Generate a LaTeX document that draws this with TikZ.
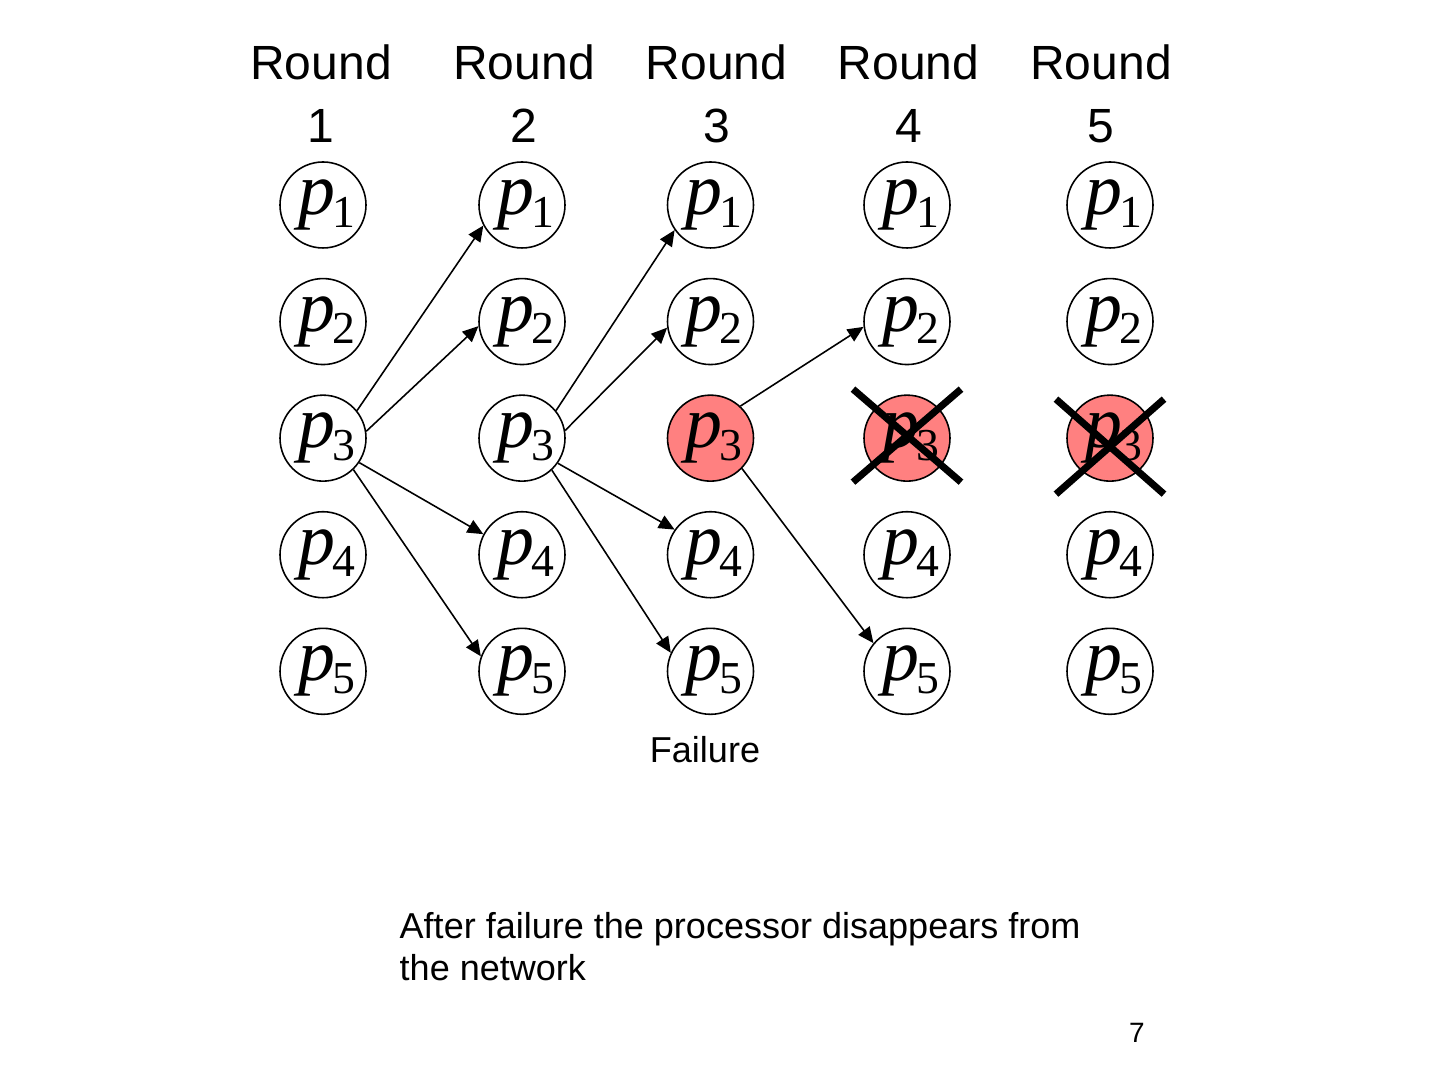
\documentclass[tikz,border=0pt]{standalone}
\usepackage{fontspec}
\setmainfont{Liberation Sans}
\newfontfamily\timesfont{Liberation Serif}
\usetikzlibrary{arrows.meta}
\usetikzlibrary{positioning}
\usepackage{xcolor}
\definecolor{failred}{HTML}{FF8080}
\newcommand{\pn}[1]{\kern2pt{\fontsize{21}{22}\selectfont\timesfont\itshape p}\kern-0.8pt\raisebox{-3.6pt}{\fontsize{13}{14}\selectfont\timesfont #1}}

\begin{document}
\begin{tikzpicture}[
  node distance=0.29cm,
  proc/.style={circle, draw=black, line width=0.45pt, fill=white,
    minimum size=0.86cm, inner sep=0pt},
  failed/.style={proc, fill=failred},
  round/.style={anchor=north, inner sep=0pt, align=center,
    font=\fontsize{13.66}{17.9}\selectfont},
  arrow/.style={-{Triangle[length=4.5pt, width=4pt]}, line width=0.45pt},
  cross/.style={line width=2pt},
  note/.style={inner sep=0pt, font=\fontsize{10.25}{11.95}\selectfont},
]
\useasboundingbox (0,0) rectangle (14.4,10.8);

% === Round headings ===
\node[round] (h1) at (3.21,10.36) {Round\\1};
\node[round] (h2) at (5.24,10.36) {Round\\2};
\node[round] (h3) at (7.165,10.36) {Round\\3};
\node[round] (h4) at (9.085,10.36) {Round\\4};
\node[round] (h5) at (11.01,10.36) {Round\\5};

% === Round 1 ===
\node[proc] (r1p1) at (3.23,8.75) {\pn{1}};
\node[proc, below=of r1p1] (r1p2) {\pn{2}};
\node[proc, below=of r1p2] (r1p3) {\pn{3}};
\node[proc, below=of r1p3] (r1p4) {\pn{4}};
\node[proc, below=of r1p4] (r1p5) {\pn{5}};

% === Round 2 ===
\node[proc] (r2p1) at (5.22,8.75) {\pn{1}};
\node[proc, below=of r2p1] (r2p2) {\pn{2}};
\node[proc, below=of r2p2] (r2p3) {\pn{3}};
\node[proc, below=of r2p3] (r2p4) {\pn{4}};
\node[proc, below=of r2p4] (r2p5) {\pn{5}};

% === Round 3: p3 fails ===
\node[proc] (r3p1) at (7.105,8.75) {\pn{1}};
\node[proc, below=of r3p1] (r3p2) {\pn{2}};
\node[failed, below=of r3p2] (r3p3) {\pn{3}};
\node[proc, below=of r3p3] (r3p4) {\pn{4}};
\node[proc, below=of r3p4] (r3p5) {\pn{5}};

% === Round 4 ===
\node[proc] (r4p1) at (9.07,8.75) {\pn{1}};
\node[proc, below=of r4p1] (r4p2) {\pn{2}};
\node[failed, below=of r4p2] (r4p3) {\pn{3}};
\node[proc, below=of r4p3] (r4p4) {\pn{4}};
\node[proc, below=of r4p4] (r4p5) {\pn{5}};

% === Round 5 ===
\node[proc] (r5p1) at (11.1,8.75) {\pn{1}};
\node[proc, below=of r5p1] (r5p2) {\pn{2}};
\node[failed, below=of r5p2] (r5p3) {\pn{3}};
\node[proc, below=of r5p3] (r5p4) {\pn{4}};
\node[proc, below=of r5p4] (r5p5) {\pn{5}};

% Crossed out
\draw[cross] ([shift={(-0.54,0.49)}]r4p3.center) -- ([shift={(0.54,-0.44)}]r4p3.center);
\draw[cross] ([shift={(-0.54,-0.44)}]r4p3.center) -- ([shift={(0.54,0.49)}]r4p3.center);
\draw[cross] ([shift={(-0.54,0.39)}]r5p3.center) -- ([shift={(0.54,-0.56)}]r5p3.center);
\draw[cross] ([shift={(-0.54,-0.56)}]r5p3.center) -- ([shift={(0.54,0.39)}]r5p3.center);

% === Arrows ===
\draw[arrow] (r1p3.39) -- (r2p1.208);
\draw[arrow] (r1p3.9) -- (r2p2.186);
\draw[arrow] (r1p3.-34) -- (r2p4.152);
\draw[arrow] (r1p3.-46) -- (r2p5.160);
\draw[arrow] (r2p3.39) -- (r3p1.215);
\draw[arrow] (r2p3.10) -- (r3p2.188);
\draw[arrow] (r2p3.-35) -- (r3p4.145);
\draw[arrow] (r2p3.-47) -- (r3p5.155);
\draw[arrow] (r3p3.47) -- (r4p2.187);
\draw[arrow] (r3p3.-44) -- (r4p5.140);

% === Labels ===
\node[note, anchor=base] (fail) at (7.05,3.17) {Failure};
\node[note, anchor=north west, align=left] (after) at (3.99,1.68)
  {After failure the processor disappears from\\the network};
\node[inner sep=0pt, anchor=base, font=\fontsize{7.96}{9}\selectfont] (page) at (11.37,0.37) {7};

\end{tikzpicture}
\end{document}
